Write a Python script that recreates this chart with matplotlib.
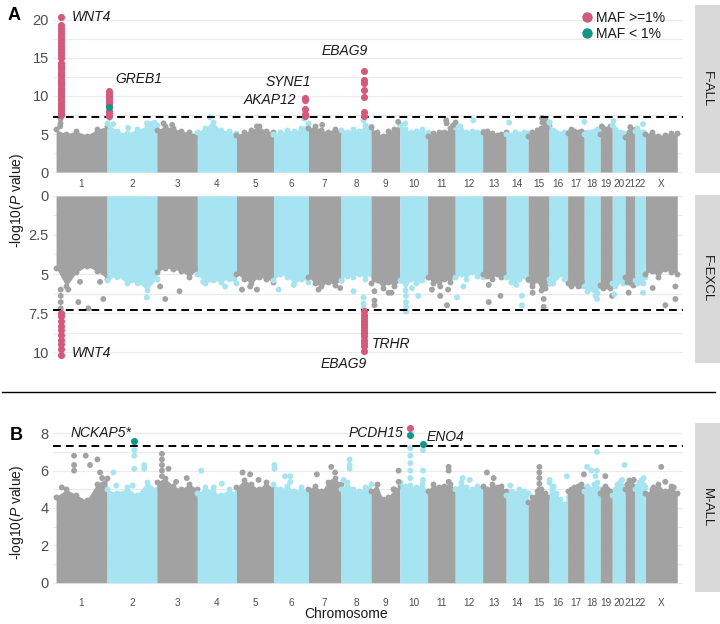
import numpy as np
import matplotlib
matplotlib.use('Agg')
import matplotlib.pyplot as plt
from matplotlib.lines import Line2D

plt.rcParams['font.family'] = ['Liberation Sans', 'DejaVu Sans']
plt.rcParams['mathtext.fontset'] = 'custom'
plt.rcParams['mathtext.rm'] = 'Liberation Sans'
plt.rcParams['mathtext.it'] = 'Liberation Sans:italic'

# ---------------- data ----------------
CHROMS = ['1', '2', '3', '4', '5', '6', '7', '8', '9', '10', '11', '12', '13', '14',
          '15', '16', '17', '18', '19', '20', '21', '22', 'X']
CHROM_LEN_MB = [249.3, 243.2, 198.0, 191.2, 180.9, 171.1, 159.1, 146.4, 141.2, 135.5,
                135.0, 133.9, 115.2, 107.3, 102.5, 90.4, 81.2, 78.1, 59.1, 63.0, 48.1,
                51.3, 155.3]

# upper envelope of the dense background cloud (6 readings per chromosome)
ENV_F_ALL = [
    [5.6, 5.0, 5.4, 4.8, 5.6, 6.0], [6.5, 5.4, 5.1, 5.6, 6.0, 6.2], [5.5, 6.0, 5.8, 5.4, 5.2, 5.0],
    [5.3, 5.8, 6.6, 5.5, 5.4, 5.1], [4.9, 5.2, 5.5, 6.0, 5.4, 5.3], [5.0, 5.2, 5.5, 5.4, 5.8, 6.5],
    [5.8, 6.0, 5.5, 5.3, 5.7, 5.4], [5.5, 5.3, 5.7, 5.4, 6.2, 6.0], [5.9, 5.2, 4.8, 5.4, 5.7, 6.2],
    [6.2, 5.6, 5.2, 5.4, 5.6, 5.2], [4.8, 5.1, 5.3, 5.2, 5.8, 6.6], [5.9, 5.5, 5.3, 5.4, 5.3, 5.4],
    [5.3, 5.4, 5.1, 4.9, 5.0, 5.2], [5.0, 4.9, 5.2, 5.0, 5.3, 5.1], [4.8, 5.2, 5.5, 5.8, 7.0, 6.0],
    [6.6, 5.5, 5.2, 5.0, 5.3, 5.2], [5.1, 5.7, 5.4, 5.3, 5.4, 5.1], [5.0, 5.2, 5.3, 5.4, 5.6, 5.3],
    [5.0, 5.8, 5.4, 5.7, 6.0, 6.1], [6.2, 5.6, 5.2, 5.3, 5.1, 5.0], [4.6, 4.8, 5.2, 5.3, 5.5, 5.7],
    [5.4, 5.8, 5.3, 5.2, 5.3, 5.0], [5.0, 5.3, 4.8, 4.9, 5.1, 5.1]]
ENV_F_EXCL = [
    [4.6, 5.8, 4.9, 4.5, 4.8, 5.3], [5.4, 5.1, 5.6, 5.5, 6.0, 5.3], [4.9, 4.6, 4.7, 4.8, 5.2, 4.7],
    [5.0, 5.6, 5.4, 5.5, 5.3, 5.6], [5.0, 5.3, 5.6, 5.2, 5.3, 5.5], [5.4, 5.0, 5.2, 5.6, 5.3, 5.5],
    [5.2, 5.6, 5.8, 5.5, 5.7, 5.4], [5.4, 5.1, 5.2, 5.0, 5.3, 5.0], [5.6, 5.4, 5.9, 5.5, 5.8, 5.4],
    [5.4, 6.0, 5.3, 5.6, 5.4, 5.2], [5.2, 5.6, 5.5, 5.3, 5.5, 5.1], [5.2, 5.0, 5.3, 4.9, 5.1, 5.2],
    [5.0, 5.1, 5.3, 5.0, 5.2, 5.0], [5.2, 5.5, 5.6, 5.3, 5.1, 5.4], [5.3, 5.8, 5.4, 6.0, 5.9, 5.6],
    [5.3, 5.4, 5.2, 5.0, 5.3, 5.5], [5.6, 5.8, 5.6, 5.8, 5.7, 5.5], [5.8, 6.1, 5.9, 6.0, 6.2, 5.8],
    [5.7, 5.9, 5.6, 5.8, 5.9, 5.6], [5.6, 5.8, 5.5, 5.4, 5.6, 5.3], [5.2, 5.5, 5.4, 5.6, 5.7, 5.3],
    [5.4, 5.6, 5.3, 5.5, 5.6, 5.2], [5.0, 4.8, 5.2, 4.7, 4.9, 5.0]]
ENV_M_ALL = [
    [4.6, 5.0, 4.7, 4.4, 5.3, 5.6], [5.0, 4.8, 5.1, 4.7, 5.4, 5.0], [5.4, 5.6, 5.2, 5.0, 5.3, 5.0],
    [4.8, 5.1, 4.9, 4.7, 5.0, 4.8], [5.1, 5.5, 5.3, 5.0, 5.4, 5.0], [5.3, 5.0, 5.2, 4.9, 5.1, 4.8],
    [5.0, 5.2, 4.9, 5.4, 5.6, 5.3], [5.0, 5.4, 5.0, 4.9, 5.1, 5.3], [4.9, 5.3, 4.5, 4.6, 5.0, 5.2],
    [5.4, 5.2, 5.0, 5.1, 5.3, 4.9], [4.9, 5.3, 5.1, 5.2, 5.3, 5.0], [5.0, 5.4, 5.1, 5.0, 5.2, 5.1],
    [5.2, 5.0, 5.3, 5.1, 5.2, 4.9], [4.7, 4.9, 4.8, 5.0, 4.9, 4.8], [4.3, 4.6, 4.9, 5.0, 4.8, 4.6],
    [5.4, 5.2, 4.8, 4.5, 4.2, 4.6], [4.9, 5.0, 5.1, 5.2, 5.3, 5.0], [4.9, 5.2, 5.0, 5.3, 5.4, 5.0],
    [4.8, 5.0, 5.2, 5.0, 4.9, 4.7], [4.7, 5.0, 5.3, 5.4, 5.2, 4.9], [5.0, 5.3, 5.5, 5.4, 5.2, 5.0],
    [5.0, 5.2, 5.4, 5.5, 5.3, 5.1], [4.8, 5.0, 5.3, 4.9, 5.2, 4.8]]

# isolated background SNPs: (chromosome, position in Mb, -log10 P)
OUT_F_ALL = [
    ('1', 22, 7.0), ('1', 22, 6.4), ('1', 20, 6.0), ('2', 12, 7.1), ('2', 30, 6.3), ('2', 103, 5.8),
    ('2', 195, 6.4), ('2', 215, 6.3), ('2', 232, 6.5), ('3', 33, 6.4), ('3', 75, 6.2), ('4', 62, 7.2),
    ('4', 70, 6.0), ('5', 100, 6.0), ('6', 150, 7.0), ('7', 67, 6.2), ('8', 110, 6.8), ('9', 133, 6.6),
    ('10', 26, 6.4), ('11', 91, 6.8), ('11', 93, 6.4), ('11', 124, 6.1), ('12', 25, 6.0),
    ('12', 89, 6.8), ('14', 15, 6.5), ('15', 68, 7.1), ('15', 70, 6.5), ('16', 2, 6.5),
    ('18', 1, 6.6), ('19', 8, 6.0), ('20', 6, 6.7), ('21', 25, 5.9), ('22', 39, 6.3)]
OUT_F_EXCL = [
    ('1', 23, 6.0), ('1', 23, 6.4), ('1', 23, 6.8), ('1', 23, 7.2), ('1', 109, 6.8), ('1', 158, 7.2),
    ('1', 231, 6.6), ('1', 60, 6.0), ('1', 117, 5.5), ('1', 215, 5.5), ('2', 105, 5.3), ('2', 194, 6.5),
    ('2', 150, 5.6), ('2', 50, 5.2), ('3', 41, 6.6), ('3', 111, 6.1), ('3', 16, 5.8), ('4', 136, 5.8),
    ('4', 28, 5.5), ('5', 27, 6.0), ('5', 100, 6.0), ('5', 67, 5.8), ('6', 25, 6.0), ('6', 98, 5.7),
    ('7', 49, 6.0), ('7', 155, 5.9), ('8', 61, 6.1), ('8', 110, 6.5), ('8', 110, 6.9), ('8', 110, 7.2),
    ('9', 17, 6.1), ('9', 17, 6.7), ('9', 17, 7.0), ('9', 86, 6.2), ('9', 100, 6.2),
    ('10', 30, 6.4), ('10', 30, 6.8), ('10', 30, 7.1), ('10', 30, 7.4), ('10', 59, 5.9), ('10', 90, 6.4),
    ('11', 21, 6.0), ('11', 62, 5.8), ('11', 62, 6.4), ('11', 95, 7.0), ('11', 100, 6.0),
    ('12', 9, 6.5), ('12', 40, 5.8), ('13', 30, 6.8), ('13', 87, 6.4), ('13', 30, 5.7),
    ('14', 77, 6.4), ('14', 77, 7.0), ('14', 50, 5.7), ('15', 76, 7.1), ('15', 76, 6.6), ('15', 22, 6.2),
    ('15', 22, 5.6), ('16', 6, 5.6), ('16', 20, 5.6), ('18', 63, 6.6), ('18', 55, 6.4), ('19', 58, 6.4),
    ('20', 10, 6.3), ('21', 17, 6.2), ('22', 39, 6.2), ('X', 35, 5.9), ('X', 97, 7.0), ('X', 146, 5.8),
    ('X', 146, 6.6)]
OUT_M_ALL = [
    ('1', 28, 5.1), ('1', 88, 6.8), ('1', 88, 6.3), ('1', 88, 6.0), ('1', 145, 6.8), ('1', 166, 6.3),
    ('1', 202, 6.6), ('1', 215, 5.9), ('1', 225, 5.6), ('2', 133, 7.1), ('2', 133, 6.8), ('2', 133, 6.1),
    ('2', 125, 5.2), ('2', 182, 6.3), ('2', 182, 6.1), ('2', 31, 5.9), ('2', 45, 5.2),
    ('3', 25, 6.9), ('3', 25, 6.6), ('3', 25, 6.3), ('3', 25, 6.0), ('3', 25, 5.7), ('3', 57, 6.1),
    ('3', 94, 5.4), ('3', 146, 5.6), ('4', 19, 6.0), ('4', 80, 5.1), ('4', 120, 5.3),
    ('5', 30, 5.9), ('5', 67, 5.8), ('5', 108, 5.5), ('6', 5, 6.1), ('6', 5, 6.3), ('6', 57, 5.7),
    ('6', 82, 5.7), ('6', 82, 5.4), ('7', 41, 5.8), ('7', 111, 6.2), ('7', 130, 5.9), ('7', 120, 5.4),
    ('8', 42, 6.6), ('8', 42, 6.3), ('8', 42, 6.1), ('8', 12, 5.5), ('9', 110, 5.0), ('9', 135, 6.0),
    ('9', 135, 5.4), ('10', 51, 7.2), ('10', 51, 6.8), ('10', 51, 6.4), ('10', 51, 6.0), ('10', 51, 5.6),
    ('10', 51, 5.2), ('10', 113, 7.1), ('10', 113, 6.0), ('10', 113, 5.5), ('11', 103, 6.2),
    ('11', 103, 6.0), ('11', 103, 5.4), ('11', 30, 5.0), ('12', 36, 5.6), ('12', 71, 5.5),
    ('13', 21, 5.9), ('13', 54, 5.6), ('14', 20, 5.2), ('15', 55, 6.2), ('15', 55, 5.9), ('15', 55, 5.6),
    ('15', 55, 5.3), ('15', 55, 5.0), ('16', 3, 5.5), ('16', 87, 5.7), ('17', 29, 4.9),
    ('18', 62, 7.0), ('18', 14, 6.2), ('17', 80, 5.8), ('18', 62, 6.0), ('18', 55, 5.7), ('18', 35, 6.0),
    ('19', 25, 5.7), ('20', 60, 6.3), ('20', 47, 5.5), ('21', 42, 5.5), ('22', 42, 5.6),
    ('X', 77, 6.2), ('X', 97, 5.4), ('X', 138, 5.1), ('X', 40, 5.1)]

# genome-wide significant loci: (chromosome, position Mb, values, MAF class)
HITS_F_ALL = [
    ('1', 22.4, [7.5, 7.8, 8.1, 8.4, 8.7, 9.0, 9.3, 9.6, 9.9, 10.2, 10.5, 10.8, 11.1, 11.4, 11.7,
                 12.0, 12.3, 12.6, 12.9, 13.2, 13.5, 13.8, 14.1, 14.4, 15.0, 15.4, 15.8, 16.2, 16.6,
                 17.0, 17.4, 17.8, 18.2, 18.6, 19.0, 19.4, 20.4], 'hi'),
    ('2', 11.7, [7.4, 7.7, 8.0, 8.8, 9.1, 9.4, 9.7, 10.0, 10.3, 10.6], 'hi'),
    ('2', 11.7, [8.5], 'lo'),
    ('6', 152.0, [7.4, 7.6, 8.3, 9.5, 9.8], 'hi'),
    ('8', 110.3, [7.4, 7.9, 9.9, 10.8, 11.7, 12.1, 13.3], 'hi')]
HITS_F_EXCL = [
    ('1', 22.4, [7.5, 7.7, 8.0, 8.3, 8.6, 8.9, 9.2, 9.5, 9.8, 10.2], 'hi'),
    ('8', 110.3, [7.4, 7.6, 7.8, 8.0, 8.2, 8.4, 8.6, 8.8, 9.0, 9.2, 9.4, 9.6, 9.9], 'hi')]
HITS_M_ALL = [
    ('2', 133.0, [7.6], 'lo'),
    ('10', 51.0, [8.3], 'hi'),
    ('10', 51.0, [7.9], 'lo'),
    ('10', 113.0, [7.45], 'lo')]

SIG_LINE = 7.3

# ---------------- style ----------------
GREY = '#a2a2a2'
BLUE = '#a6e4f2'
PINK = '#d35a7b'
TEAL = '#12968a'
GRID = '#ebebeb'
TXT = '#1a1a1a'

W, H = 720, 624
fig = plt.figure(figsize=(W / 100, H / 100), dpi=100)

starts = np.concatenate([[0], np.cumsum(CHROM_LEN_MB)[:-1]])
centers = starts + np.array(CHROM_LEN_MB) / 2
cstart = dict(zip(CHROMS, starts))
ccol = {c: (GREY if i % 2 == 0 else BLUE) for i, c in enumerate(CHROMS)}
XLIM = (-15, np.sum(CHROM_LEN_MB) + 28)


def ax_px(x0, y0, x1, y1):
    return fig.add_axes([x0 / W, 1 - y1 / H, (x1 - x0) / W, (y1 - y0) / H])


def draw_panel(ax, env, outs, hits, ylim, majors, minor_step, ticklabels, show_x):
    ax.set_xlim(*XLIM)
    ax.set_ylim(*ylim)
    hi = max(ylim)
    for v in np.arange(0, hi + 1e-9, minor_step):
        ax.axhline(v, color=GRID, lw=0.8, zorder=0)
    for i, c in enumerate(CHROMS):
        xs = cstart[c] + np.linspace(0, CHROM_LEN_MB[i], len(env[i]))
        ax.fill_between(xs, 0, env[i], color=ccol[c], lw=0, zorder=1)
        ax.scatter(xs, env[i], s=18, color=ccol[c], lw=0, zorder=1)
    ox = [cstart[c] + p for c, p, v in outs]
    oy = [v for c, p, v in outs]
    oc = [ccol[c] for c, p, v in outs]
    ax.scatter(ox, oy, s=18, c=oc, lw=0, zorder=2)
    ax.axhline(SIG_LINE, color='black', lw=1.4, ls=(0, (4.0, 2.6)), zorder=3)
    for c, p, vals, cls in hits:
        ax.scatter([cstart[c] + p] * len(vals), vals, s=26,
                   color=PINK if cls == 'hi' else TEAL, lw=0, zorder=4)
    ax.set_yticks(majors)
    ax.set_yticklabels(ticklabels, fontsize=10.5, color='#4d4d4d')
    ax.tick_params(axis='y', length=0, pad=3)
    if show_x:
        ax.set_xticks(centers)
        ax.set_xticklabels(CHROMS, fontsize=7.2, color='#4d4d4d')
        ax.tick_params(axis='x', length=0, pad=4)
    else:
        ax.set_xticks([])
    for s in ax.spines.values():
        s.set_visible(False)
    ax.set_facecolor('white')


def strip(y0, y1, label):
    sa = ax_px(695, y0, 722, y1)
    sa.set_facecolor('#d9d9d9')
    sa.set_xticks([]); sa.set_yticks([])
    for s in sa.spines.values():
        s.set_visible(False)
    sa.text(0.45, 0.5, label, rotation=-90, ha='center', va='center', fontsize=9.5,
            color=TXT, transform=sa.transAxes)


# Panel A top: F-ALL
ax1 = ax_px(53, 5, 683, 173)
draw_panel(ax1, ENV_F_ALL, OUT_F_ALL, HITS_F_ALL, (-0.13, 21.97), [0, 5, 10, 15, 20], 2.5,
           ['0', '5', '10', '15', '20'], True)
strip(5, 173, 'F-ALL')

# Panel A bottom: F-EXCL (reversed)
ax2 = ax_px(53, 195, 683, 363)
draw_panel(ax2, ENV_F_EXCL, OUT_F_EXCL, HITS_F_EXCL, (10.7, -0.06), [0, 2.5, 5, 7.5, 10], 1.25,
           ['0', '2.5', '5', '7.5', '10'], False)
strip(195, 363, 'F-EXCL')

# Panel B: M-ALL
ax3 = ax_px(53, 423, 683, 592)
draw_panel(ax3, ENV_M_ALL, OUT_M_ALL, HITS_M_ALL, (-0.5, 8.55), [0, 2, 4, 6, 8], 1,
           ['0', '2', '4', '6', '8'], True)
strip(423, 592, 'M-ALL')

# gene labels
gkw = dict(fontsize=10, style='italic', color=TXT)
ax1.text(cstart['1'] + 78, 20.4, 'WNT4', ha='left', va='center', **gkw)
ax1.text(cstart['2'] + 38, 12.3, 'GREB1', ha='left', va='center', **gkw)
ax1.text(cstart['6'] + 75, 11.9, 'SYNE1', ha='center', va='center', **gkw)
ax1.text(cstart['6'] + 112, 9.5, 'AKAP12', ha='right', va='center', **gkw)
ax1.text(cstart['8'] + 20, 15.9, 'EBAG9', ha='center', va='center', **gkw)
ax2.text(cstart['1'] + 78, 10.05, 'WNT4', ha='left', va='center', **gkw)
ax2.text(cstart['8'] + 150, 9.5, 'TRHR', ha='left', va='center', **gkw)
ax2.text(cstart['8'] + 125, 10.75, 'EBAG9', ha='right', va='center', clip_on=False, **gkw)
ax3.text(cstart['1'] + 72, 8.0, 'NCKAP5*', ha='left', va='center', **gkw)
ax3.text(cstart['10'] + 17, 8.0, 'PCDH15', ha='right', va='center', **gkw)
ax3.text(cstart['10'] + 130, 7.8, 'ENO4', ha='left', va='center', **gkw)

# legend
handles = [Line2D([], [], marker='o', ls='', color=PINK, markersize=6.5, label='MAF >=1%'),
           Line2D([], [], marker='o', ls='', color=TEAL, markersize=6.5, label='MAF < 1%')]
ax1.legend(handles=handles, loc='upper left', bbox_to_anchor=((580 - 53) / 630, 1 - 6 / 168),
           frameon=False, fontsize=10, handletextpad=0.15, labelspacing=0.12, borderaxespad=0,
           borderpad=0, handlelength=1.0, labelcolor=TXT)

# axis titles
ylab = r'-log10($\it{P}$ value)'
fig.text(17 / W, 1 - 200 / H, ylab, rotation=90, ha='center', va='center', fontsize=10, color=TXT)
fig.text(17 / W, 1 - 512 / H, ylab, rotation=90, ha='center', va='center', fontsize=10, color=TXT)
fig.text(346 / W, 1 - 614 / H, 'Chromosome', ha='center', va='center', fontsize=10, color=TXT)

# panel letters
fig.text(14 / W, 1 - 15 / H, 'A', ha='center', va='center', fontsize=13, fontweight='bold')
fig.text(16 / W, 1 - 435 / H, 'B', ha='center', va='center', fontsize=13, fontweight='bold')

# separator
fig.add_artist(Line2D([2 / W, 715 / W], [1 - 392 / H, 1 - 392 / H], color='black', lw=1.0))

fig.savefig('out.png', dpi=100)
